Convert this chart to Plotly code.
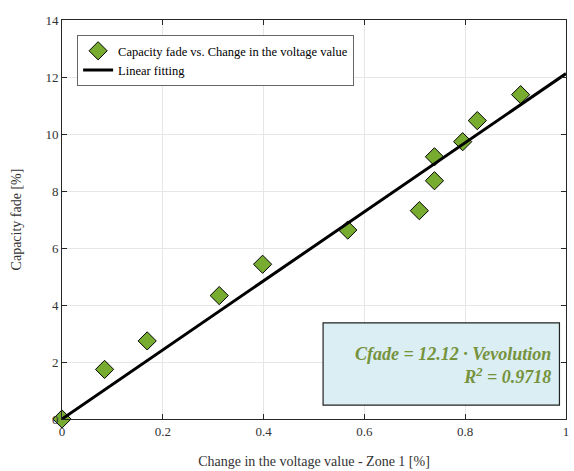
import numpy as np
import plotly.graph_objects as go

# Measured points: change in voltage value (Zone 1) vs capacity fade
voltage_change = [0.0, 0.0845, 0.169, 0.312, 0.398, 0.567, 0.709, 0.739, 0.739, 0.795, 0.824, 0.910]
capacity_fade = [0.0, 1.74, 2.74, 4.33, 5.43, 6.63, 7.31, 8.36, 9.20, 9.73, 10.47, 11.38]

# Linear fit through the origin
slope = 12.12
r_squared = 0.9718
fit_x = [0.0, 1.0]
fit_y = [slope * v for v in fit_x]

x_ticks = [0, 0.2, 0.4, 0.6, 0.8, 1]
y_ticks = [0, 2, 4, 6, 8, 10, 12, 14]

FONT = "Liberation Serif, Times New Roman, serif"
GREEN = "#77AC30"
TEXT_GREEN = "#76923C"

fig = go.Figure()

fig.add_trace(go.Scatter(
    x=voltage_change, y=capacity_fade, mode="markers",
    name="Capacity fade vs. Change in the voltage value",
    marker=dict(symbol="diamond", size=14, color=GREEN,
                line=dict(color="black", width=1)),
    cliponaxis=False,
))
fig.add_trace(go.Scatter(
    x=fit_x, y=fit_y, mode="lines", name="Linear fitting",
    line=dict(color="black", width=3),
))

# Equation box
fig.add_shape(type="rect", xref="paper", yref="paper",
              x0=0.518, x1=0.987, y0=0.035, y1=0.241,
              fillcolor="#DAEEF3", line=dict(color="#222222", width=1.2),
              layer="above")
fig.add_annotation(
    xref="paper", yref="paper", x=0.975, y=0.135,
    xanchor="right", yanchor="middle", align="right", showarrow=False,
    text=f"<b><i>Cfade = {slope:.2f} · Vevolution<br>R<sup>2</sup> = {r_squared:.4f}</i></b>",
    font=dict(family=FONT, size=18, color=TEXT_GREEN),
)

fig.update_layout(
    width=574, height=471,
    margin=dict(l=62, r=5, t=20, b=52),
    paper_bgcolor="white", plot_bgcolor="white",
    font=dict(family=FONT, size=13, color="#333333"),
    showlegend=True,
    legend=dict(
        x=0.03, y=0.962, xanchor="left", yanchor="top",
        bgcolor="white", bordercolor="#666666", borderwidth=1,
        font=dict(family=FONT, size=12.5, color="black"),
        tracegroupgap=0, itemwidth=30,
    ),
)

fig.update_xaxes(
    range=[0, 1], tickvals=x_ticks, ticktext=[f"{t:g}" for t in x_ticks],
    showgrid=True, gridcolor="#E6E6E6", gridwidth=1,
    showline=True, linecolor="#262626", linewidth=1, mirror="ticks",
    ticks="inside", ticklen=5, tickcolor="#262626",
    zeroline=False,
    title=dict(text="Change in the voltage value - Zone 1 [%]",
               font=dict(family=FONT, size=14, color="#333333"), standoff=18),
)
fig.update_yaxes(
    range=[0, 14], tickvals=y_ticks,
    showgrid=True, gridcolor="#E6E6E6", gridwidth=1,
    showline=True, linecolor="#262626", linewidth=1, mirror="ticks",
    ticks="inside", ticklen=5, tickcolor="#262626",
    zeroline=False,
    title=dict(text="Capacity fade [%]",
               font=dict(family=FONT, size=14, color="#333333"), standoff=20),
)

fig.write_html("out.html")
